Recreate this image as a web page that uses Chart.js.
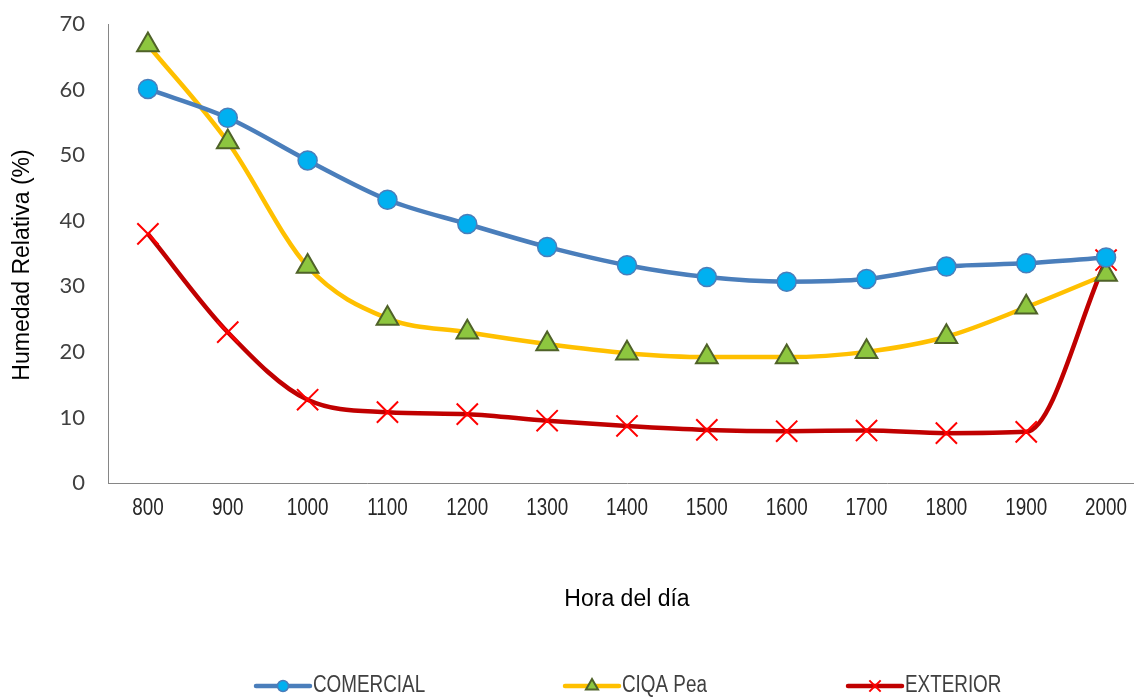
<!DOCTYPE html>
<html>
<head>
<meta charset="utf-8">
<script src="https://cdn.jsdelivr.net/npm/chart.js@4/dist/chart.umd.min.js"></script>
<style>
	html, body { margin: 0; padding: 0; background: #fff; overflow: hidden; }
	#chartHumedad { display: block; }
</style>
</head>
<body>
<canvas id="chartHumedad" width="1150" height="697"></canvas>
<script>
'use strict'

// data
const horas = ['800', '900', '1000', '1100', '1200', '1300', '1400', '1500', '1600', '1700', '1800', '1900', '2000'];
const comercial = [60.1, 55.7, 49.2, 43.2, 39.5, 36.0, 33.2, 31.4, 30.7, 31.1, 33.0, 33.5, 34.4];
const ciqaPea = [66.8, 52.0, 33.0, 25.1, 23.0, 21.2, 19.8, 19.2, 19.2, 20.0, 22.3, 26.8, 31.8];
const exterior = [38.0, 23.0, 12.7, 10.8, 10.5, 9.5, 8.7, 8.1, 7.9, 8.0, 7.6, 7.8, 34.0];
const yTicks = [0, 10, 20, 30, 40, 50, 60, 70];

const colors = {
	blue: '#4A7EBB',
	blueFill: '#00B0F0',
	yellow: '#FFC000',
	green: '#8DC63F',
	greenDark: '#4F6228',
	red: '#C00000',
	redMark: '#FF0000',
	axis: '#868686',
	text: '#404040',
};

// the original uses a narrow face; squeeze Liberation Sans to imitate it
const squeeze = 0.82;

const series = [
	{ label: 'COMERCIAL', data: comercial, line: colors.blue, style: 'circle', fill: colors.blueFill, border: colors.blue, radius: 9.5, bw: 1.5, legendR: 5.5 },
	{ label: 'CIQA Pea', data: ciqaPea, line: colors.yellow, style: 'triangle', fill: colors.green, border: colors.greenDark, radius: 12.5, bw: 2, legendR: 7 },
	{ label: 'EXTERIOR', data: exterior, line: colors.red, style: 'crossRot', fill: colors.redMark, border: colors.redMark, radius: 15, bw: 2, legendR: 8 },
];

function narrowText(ctx, text, x, y, size, align, color) {
	ctx.save();
	ctx.font = size + 'px "Liberation Sans"';
	ctx.fillStyle = color;
	ctx.textBaseline = 'middle';
	ctx.textAlign = align;
	ctx.translate(x, y);
	ctx.scale(squeeze, 1);
	ctx.fillText(text, 0, 0);
	ctx.restore();
}

// x tick labels (placed by the category scale) and the y title
const axisText = {
	id: 'axisText',
	afterDraw(chart) {
		const ctx = chart.ctx;
		const xScale = chart.scales.x;
		xScale.ticks.forEach((t, i) => {
			narrowText(ctx, xScale.getLabelForValue(t.value), xScale.getPixelForTick(i), xScale.top + 26, 23, 'center', '#262626');
		});
		ctx.save();
		ctx.translate(23, 265);
		ctx.rotate(-Math.PI / 2);
		ctx.font = '23px "Liberation Sans"';
		ctx.fillStyle = '#000';
		ctx.textAlign = 'center';
		ctx.textBaseline = 'middle';
		ctx.fillText('Humedad Relativa (%)', 0, 0);
		ctx.restore();
	},
};

// legend drawn by hand along the bottom edge
const bottomLegend = {
	id: 'bottomLegend',
	afterDraw(chart) {
		const ctx = chart.ctx;
		const starts = [256, 565, 848];
		const y = 686;
		ctx.save();
		chart.data.datasets.forEach((ds, i) => {
			const x0 = starts[i];
			ctx.strokeStyle = ds.borderColor;
			ctx.lineWidth = 4.5;
			ctx.lineCap = 'round';
			ctx.beginPath();
			ctx.moveTo(x0, y);
			ctx.lineTo(x0 + 54, y);
			ctx.stroke();
			ctx.lineCap = 'butt';
			ctx.fillStyle = ds.pointBackgroundColor;
			ctx.strokeStyle = ds.pointBorderColor;
			ctx.lineWidth = ds.pointBorderWidth;
			Chart.helpers.drawPoint(ctx, {
				pointStyle: ds.pointStyle,
				radius: series[i].legendR,
				borderWidth: ds.pointBorderWidth,
			}, x0 + 27, y);
			narrowText(ctx, ds.label, x0 + 57, y, 23, 'left', colors.text);
		});
		ctx.restore();
	},
};

new Chart(document.getElementById('chartHumedad'), {
	type: 'line',
	data: {
		labels: horas,
		datasets: series.map(s => ({
			label: s.label,
			data: s.data,
			borderColor: s.line,
			backgroundColor: s.line,
			borderWidth: 4.5,
			cubicInterpolationMode: 'monotone',
			pointStyle: s.style,
			pointRadius: s.radius,
			pointHoverRadius: s.radius,
			pointBackgroundColor: s.fill,
			pointBorderColor: s.border,
			pointBorderWidth: s.bw,
			clip: false,
		})),
	},
	options: {
		responsive: false,
		animation: false,
		events: [],
		layout: {
			autoPadding: false,
			padding: { top: 24, right: 4, bottom: 74, left: 0 },
		},
		plugins: {
			legend: { display: false },
			tooltip: { enabled: false },
		},
		scales: {
			y: {
				min: 0,
				max: 70,
				afterFit(scale) {
					scale.width = 108;
					scale.paddingTop = 0;
					scale.paddingBottom = 0;
				},
				afterBuildTicks(scale) { scale.ticks = yTicks.map(v => ({ value: v })); },
				grid: { display: false, drawTicks: false },
				border: { display: true, color: colors.axis, width: 1 },
				ticks: {
					padding: 23,
					color: colors.text,
					font: { family: 'Lato', size: 22 },
				},
			},
			x: {
				offset: true,
				afterFit(scale) {
					scale.height = 140;
					scale.paddingLeft = 0;
					scale.paddingRight = 0;
				},
				grid: { display: false, drawTicks: false },
				border: { display: true, color: colors.axis, width: 1 },
				ticks: { display: false },
				title: {
					display: true,
					text: 'Hora del día',
					color: '#000',
					font: { family: 'Liberation Sans', size: 23 },
					padding: { top: 0, bottom: 10 },
				},
			},
		},
	},
	plugins: [axisText, bottomLegend],
});
</script>
</body>
</html>
